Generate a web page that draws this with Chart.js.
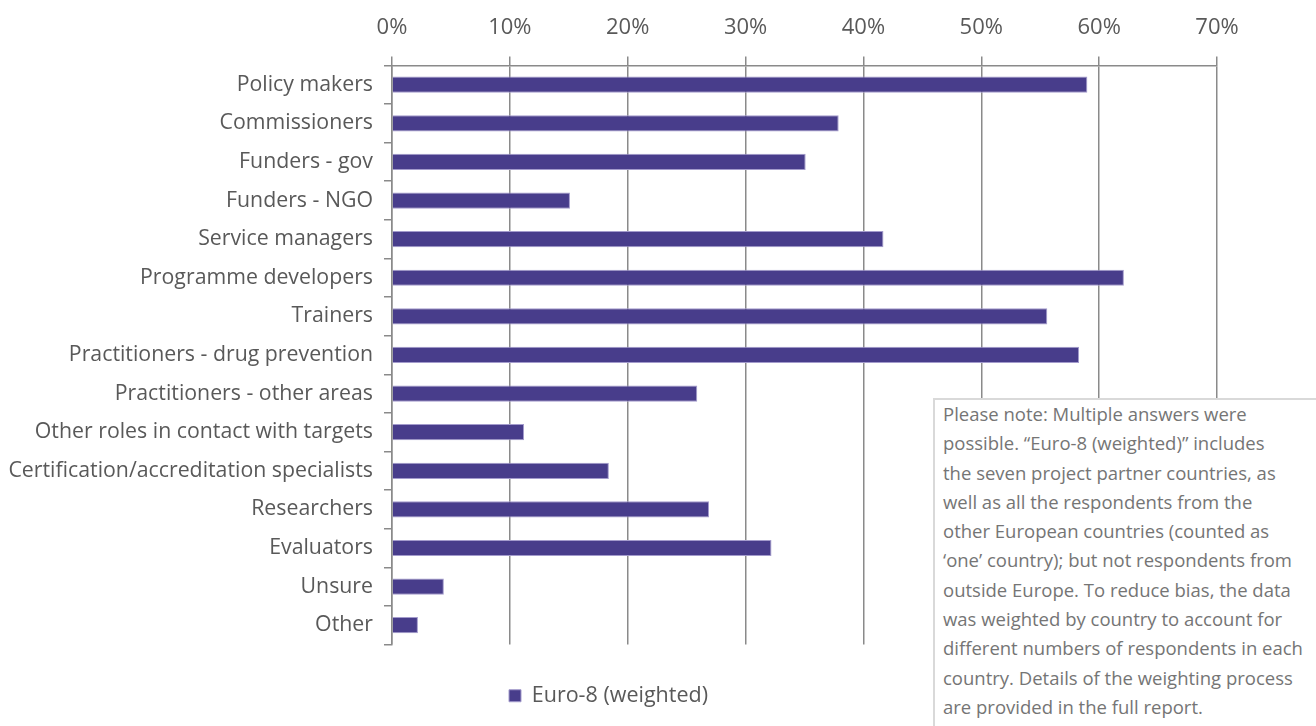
<!DOCTYPE html>
<html>
<head>
<meta charset="utf-8">
<script src="https://cdn.jsdelivr.net/npm/chart.js@4/dist/chart.umd.min.js"></script>
<style>
  html, body { margin: 0; padding: 0; background: #fff; }
  #wrap { position: relative; width: 1316px; height: 726px; overflow: hidden; }
  #note {
    position: absolute; left: 933px; top: 398px; width: 400px; height: 360px;
    border: 2px solid #d9d9d9; background: #fff; box-sizing: border-box;
    padding: 0 0 0 8px; font-family: 'Open Sans', sans-serif; font-size: 18.5px;
    line-height: 29.3px; color: #757575;
  }
  #note p { margin: -1px 0 0 0; }
</style>
</head>
<body>
<div id="wrap">
  <canvas id="roleChart"></canvas>
  <div id="note"><p>Please note: Multiple answers were<br>possible. “Euro-8 (weighted)” includes<br>the seven project partner countries, as<br>well as all the respondents from the<br>other European countries (counted as<br>‘one’ country); but not respondents from<br>outside Europe. To reduce bias, the data<br>was weighted by country to account for<br>different numbers of respondents in each<br>country. Details of the weighting process<br>are provided in the full report.</p></div>
</div>
<script>
const roles = [
  'Policy makers',
  'Commissioners',
  'Funders - gov',
  'Funders - NGO',
  'Service managers',
  'Programme developers',
  'Trainers',
  'Practitioners - drug prevention',
  'Practitioners - other areas',
  'Other roles in contact with targets',
  'Certification/accreditation specialists',
  'Researchers',
  'Evaluators',
  'Unsure',
  'Other',
];
const euro8 = [59.0, 37.9, 35.1, 15.1, 41.7, 62.1, 55.6, 58.3, 25.9, 11.2, 18.4, 26.9, 32.2, 4.4, 2.2];
const seriesName = 'Euro-8 (weighted)';
const xTicks = [0, 10, 20, 30, 40, 50, 60, 70];

const grey = '#8a8a8a';
Chart.defaults.font.family = "'Open Sans', sans-serif";
Chart.defaults.color = '#595959';

const canvas = document.getElementById('roleChart');

new Chart(canvas, {
  type: 'bar',
  data: {
    labels: roles,
    datasets: [{
      label: seriesName,
      data: euro8,
      backgroundColor: '#483d8b',
      borderColor: '#a39bcc',
      borderWidth: 1,
      borderSkipped: 'left',
      barPercentage: 0.42,
      categoryPercentage: 1,
    }],
  },
  options: {
    indexAxis: 'y',
    responsive: true,
    maintainAspectRatio: false,
    animation: false,
    layout: { padding: { left: 0, right: 99, top: 0, bottom: 9.5 } },
    plugins: {
      tooltip: { enabled: false },
      legend: {
        position: 'bottom',
        labels: {
          boxWidth: 12,
          boxHeight: 12,
          padding: 40.5,
          font: { size: 21.5 },
          color: '#595959',
        },
      },
    },
    scales: {
      x: {
        position: 'top',
        min: xTicks[0],
        max: xTicks[xTicks.length - 1],
        afterBuildTicks: (scale) => { scale.ticks = xTicks.map(v => ({ value: v })); },
        ticks: {
          callback: (v) => v + '%',
          font: { size: 22 },
          padding: 15,
          color: '#595959',
        },
        grid: { color: grey, lineWidth: 1.5, tickLength: 9, drawTicks: true },
        border: { display: true, color: grey, width: 1.5 },
      },
      y: {
        afterFit: (scale) => { scale.width = 392; },
        ticks: { font: { size: 21.3 }, padding: 11, color: '#595959' },
        grid: { offset: true, drawOnChartArea: false, color: grey, lineWidth: 1.5, tickLength: 8 },
        border: { display: true, color: grey, width: 1.5 },
      },
    },
  },
});
</script>
</body>
</html>
